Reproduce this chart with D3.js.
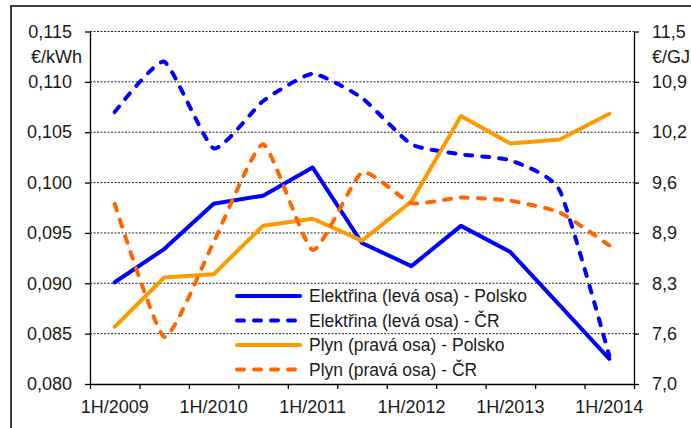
<!DOCTYPE html>
<html>
<head>
<meta charset="utf-8">
<script src="https://cdn.jsdelivr.net/npm/d3@7"></script>
<style>
  html, body { margin: 0; padding: 0; background: #fff; }
  svg { display: block; font-family: "Liberation Sans", Arial, sans-serif; }
</style>
</head>
<body>
<svg id="chart" width="691" height="428"></svg>
<script>
const categories = ["1H/2009","2H/2009","1H/2010","2H/2010","1H/2011","2H/2011","1H/2012","2H/2012","1H/2013","2H/2013","1H/2014"];
const labelledCategories = ["1H/2009","1H/2010","1H/2011","1H/2012","1H/2013","1H/2014"];
// Elektřina (€/kWh, left axis)
const elektrinaPolsko = [0.0901,0.0934,0.0979,0.0987,0.1015,0.0940,0.0917,0.0957,0.0931,0.0878,0.0825];
const elektrinaCR     = [0.1070,0.1120,0.1034,0.1081,0.1108,0.1084,0.1038,0.1028,0.1022,0.0992,0.0828];
// Plyn (€/GJ, right axis)
const plynPolsko = [7.73,8.36,8.40,9.02,9.11,8.83,9.33,10.42,10.07,10.12,10.45];
const plynCR     = [9.30,7.60,8.81,10.06,8.71,9.70,9.31,9.38,9.34,9.19,8.77];
const leftTicks = [0.080,0.085,0.090,0.095,0.100,0.105,0.110,0.115];
const rightTickLabels = ["7,0","7,6","8,3","8,9","9,6","10,2","10,9","11,5"];
const seriesNames = ["Elektřina (levá osa) - Polsko","Elektřina (levá osa) - ČR","Plyn (pravá osa) - Polsko","Plyn (pravá osa) - ČR"];

const svg = d3.select("#chart");
const L = 90, R = 634, T = 31.5, B = 384;

// outer frame
svg.append("rect").attr("x", 11).attr("y", 6).attr("width", 700).attr("height", 440)
  .attr("fill", "none").attr("stroke", "#000").attr("stroke-width", 1.5);

const x = d3.scaleBand().domain(categories).range([L, R]).padding(0);
const xb = d3.scaleLinear().domain([0, categories.length]).range([L, R]);
const yL = d3.scaleLinear().domain([0.080, 0.115]).range([B, T]);
const yR = d3.scaleLinear().domain([7.0, 11.5]).range([B, T]);
const rightTicks = d3.range(rightTickLabels.length).map(i => 7.0 + i * 4.5 / (rightTickLabels.length - 1));
const cx = c => x(c) + x.bandwidth() / 2;

// gridlines
svg.append("g").selectAll("line").data(leftTicks.slice(1)).join("line")
  .attr("x1", L).attr("x2", R)
  .attr("y1", d => yL(d)).attr("y2", d => yL(d))
  .attr("stroke", "#222").attr("stroke-width", 1).attr("stroke-dasharray", "2,1.5");

const fmtL = d => d3.format(".3f")(d).replace(".", ",");

// left axis
const gl = svg.append("g").attr("transform", `translate(${L},0)`)
  .call(d3.axisLeft(yL).tickValues(leftTicks).tickFormat(fmtL).tickSize(5).tickSizeOuter(0).tickPadding(13));
// right axis
const gr = svg.append("g").attr("transform", `translate(${R},0)`)
  .call(d3.axisRight(yR).tickValues(rightTicks).tickFormat((d, i) => rightTickLabels[i]).tickSize(5).tickSizeOuter(0).tickPadding(13));
// bottom axis: tick marks at category boundaries
const gb = svg.append("g").attr("transform", `translate(0,${B})`)
  .call(d3.axisBottom(xb).tickValues(d3.range(categories.length + 1)).tickFormat("").tickSize(5).tickSizeOuter(0));
// bottom axis labels at category centres
const gbl = svg.append("g").attr("transform", `translate(0,${B})`)
  .call(d3.axisBottom(x).tickValues(labelledCategories).tickSize(0).tickPadding(16));
gbl.select(".domain").remove();

[gl, gr, gb, gbl].forEach(g => {
  g.selectAll("text").attr("font-size", 18).attr("fill", "#1a1a1a")
    .attr("font-family", "'Liberation Sans', Arial, sans-serif");
  g.selectAll("line").attr("stroke", "#000").attr("stroke-width", 1.3);
  g.select(".domain").attr("stroke", "#000").attr("stroke-width", 1.3);
});

// units
svg.append("text").attr("x", 82).attr("y", 63).attr("text-anchor", "end")
  .attr("font-size", 18).attr("fill", "#1a1a1a").text("€/kWh");
svg.append("text").attr("x", 652).attr("y", 63).attr("text-anchor", "start")
  .attr("font-size", 18).attr("fill", "#1a1a1a").text("€/GJ");

// series
const smooth = d3.curveCardinal.tension(0.5);
const series = [
  { name: seriesNames[0], values: elektrinaPolsko, y: yL, color: "#0000ff", dash: null, curve: d3.curveLinear },
  { name: seriesNames[1], values: elektrinaCR, y: yL, color: "#0000ff", dash: "7,10", curve: smooth },
  { name: seriesNames[2], values: plynPolsko, y: yR, color: "#ff9900", dash: null, curve: d3.curveLinear },
  { name: seriesNames[3], values: plynCR, y: yR, color: "#ff6600", dash: "7,10", curve: smooth }
];

series.forEach(s => {
  const line = d3.line().x((d, i) => cx(categories[i])).y(d => s.y(d)).curve(s.curve);
  svg.append("path").datum(s.values).attr("d", line)
    .attr("fill", "none").attr("stroke", s.color).attr("stroke-width", 4)
    .attr("stroke-linejoin", "round").attr("stroke-linecap", "round")
    .attr("stroke-dasharray", s.dash);
});

// legend
const lg = svg.append("g");
series.forEach((s, i) => {
  const yy = 296 + i * 24.5;
  lg.append("line").attr("x1", 237).attr("x2", 300).attr("y1", yy).attr("y2", yy)
    .attr("stroke", s.color).attr("stroke-width", 4).attr("stroke-linecap", "round")
    .attr("stroke-dasharray", s.dash);
  lg.append("text").attr("x", 309).attr("y", yy).attr("dy", "0.35em")
    .attr("font-size", 17.5).attr("fill", "#1a1a1a").text(s.name);
});
</script>
</body>
</html>
